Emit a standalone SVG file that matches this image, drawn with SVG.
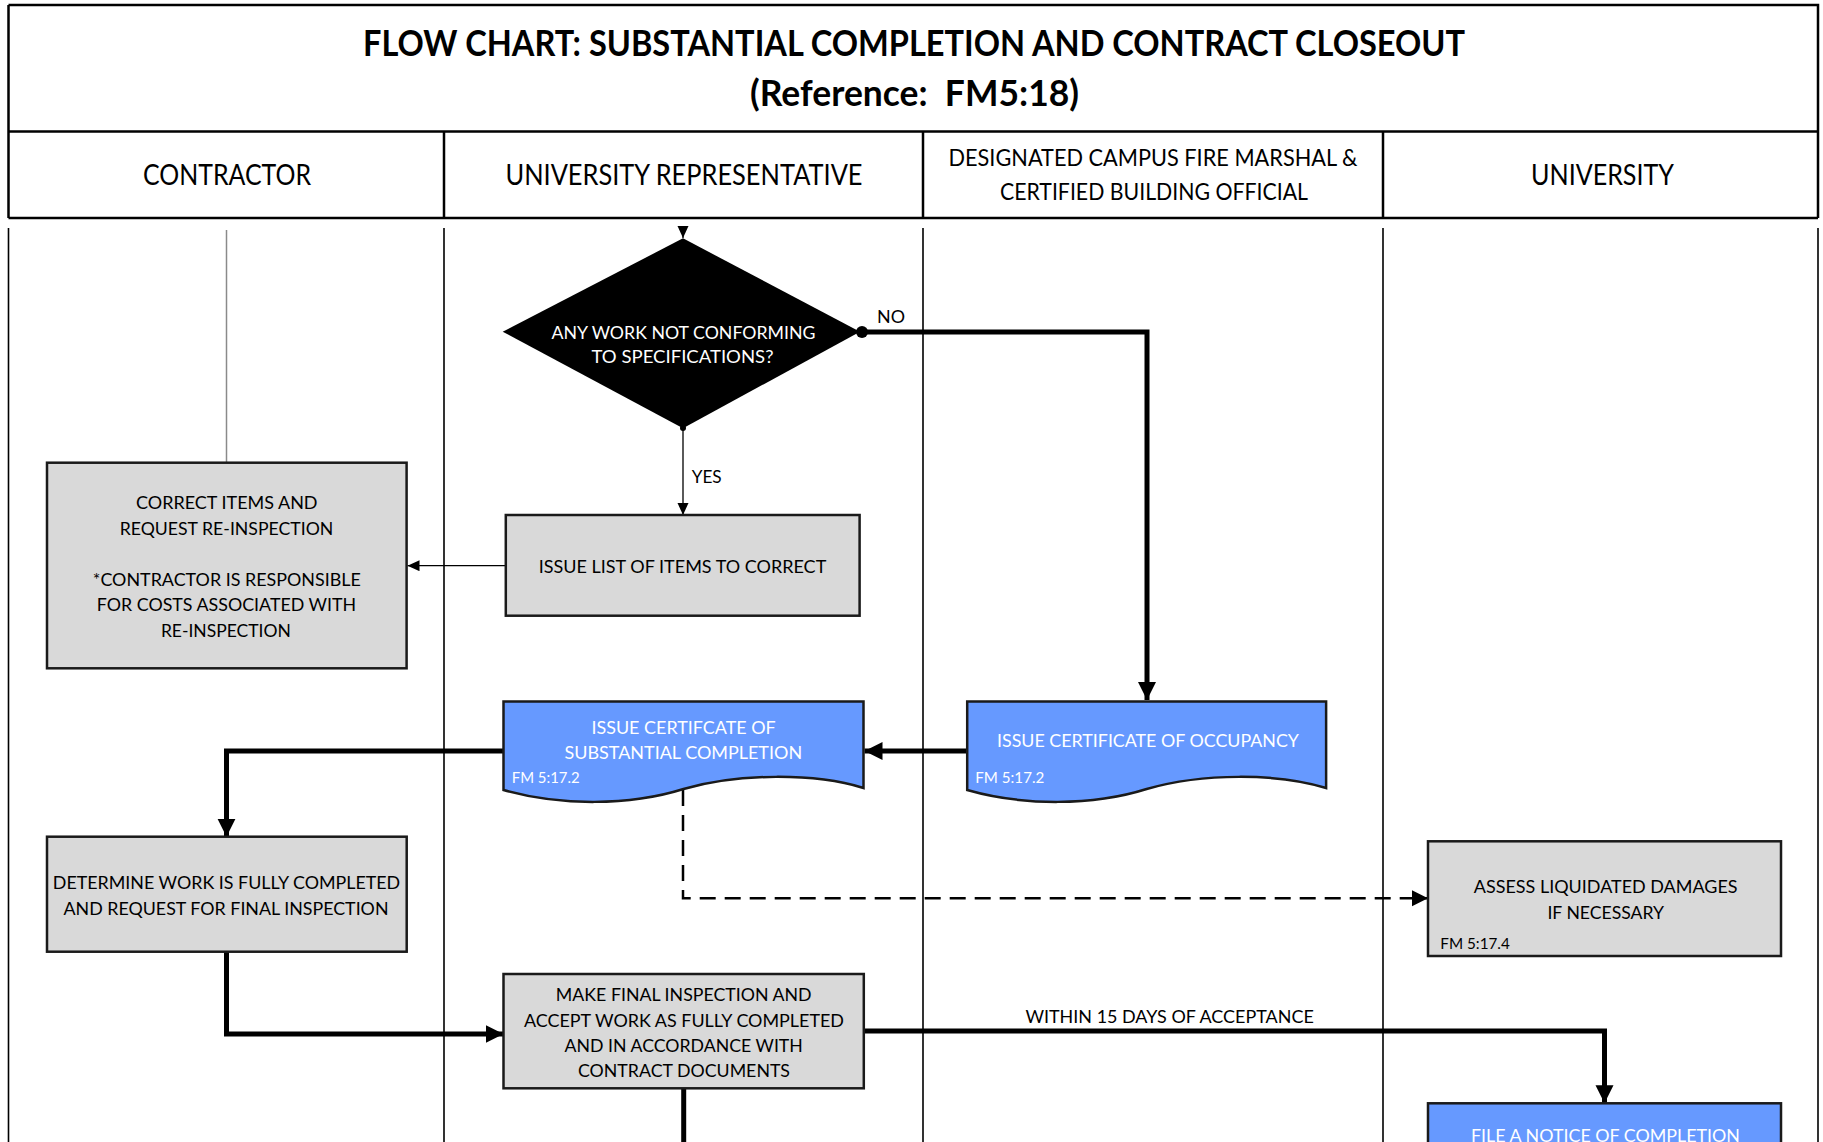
<svg xmlns="http://www.w3.org/2000/svg" width="1823" height="1142" viewBox="0 0 1823 1142">
  <style>
    .frame { stroke: #000; stroke-width: 2.5; fill: none; }
    .lane { stroke: #000; stroke-width: 1.6; fill: none; }
    .box { fill: #d9d9d9; stroke: #1a1a1a; stroke-width: 2.5; }
    .doc { fill: #6699ff; stroke: #1a1a1a; stroke-width: 2.5; }
    .t { font-family: Lato, "Open Sans", "Liberation Sans", sans-serif; fill: #000; }
    .title { font-size: 36px; font-weight: bold; text-anchor: middle; }
    .hdr { font-size: 28px; text-anchor: middle; }
    .hdr2 { font-size: 23px; text-anchor: middle; }
    .body { font-size: 18px; text-anchor: middle; }
    .small { font-size: 15px; }
    .white { fill: #fff; }
    .thick { stroke: #000; stroke-width: 5; fill: none; }
    .thin { stroke: #000; stroke-width: 1.3; fill: none; }
    .dash { stroke: #000; stroke-width: 2.5; fill: none; stroke-dasharray: 16 9; }
  </style>
  <defs>
    <marker id="bigArrow" markerUnits="userSpaceOnUse" markerWidth="20" markerHeight="20" refX="18" refY="9" orient="auto">
      <path d="M0,0 L18,9 L0,18 Z" fill="#000"/>
    </marker>
    <marker id="smallArrow" markerUnits="userSpaceOnUse" markerWidth="14" markerHeight="12" refX="12" refY="5.5" orient="auto">
      <path d="M0,0 L12,5.5 L0,11 Z" fill="#000"/>
    </marker>
    <marker id="dashArrow" markerUnits="userSpaceOnUse" markerWidth="18" markerHeight="18" refX="16" refY="8" orient="auto">
      <path d="M0,0 L16,8 L0,16 Z" fill="#000"/>
    </marker>
    <!-- document shape with wavy bottom edge, 360 wide -->
    <path id="docShape" d="M0,0 H360 V86.5 C311,71.5 236,71.5 180,87.5 C126,104.5 56,104.5 0,88.5 Z"/>
  </defs>

  <rect width="1823" height="1142" fill="#fff"/>

  <!-- title and lane headers -->
  <g id="header">
    <path class="frame" d="M8.5,5 H1818 V218 M8.5,5 V218 M8.5,131.5 H1818 M8.5,218 H1818"/>
    <path class="frame" d="M444,131.5 V218 M923,131.5 V218 M1383,131.5 V218"/>
    <text class="t title" x="914" y="55.5" textLength="1102" lengthAdjust="spacingAndGlyphs">FLOW CHART: SUBSTANTIAL COMPLETION AND CONTRACT CLOSEOUT</text>
    <text class="t title" x="914.5" y="105.5" textLength="329" lengthAdjust="spacingAndGlyphs" xml:space="preserve">(Reference:  FM5:18)</text>
    <text class="t hdr" x="227" y="185" textLength="168" lengthAdjust="spacingAndGlyphs">CONTRACTOR</text>
    <text class="t hdr" x="684" y="185" textLength="357" lengthAdjust="spacingAndGlyphs">UNIVERSITY REPRESENTATIVE</text>
    <text class="t hdr2" x="1153" y="166" textLength="409" lengthAdjust="spacingAndGlyphs">DESIGNATED CAMPUS FIRE MARSHAL &amp;</text>
    <text class="t hdr2" x="1154" y="200" textLength="308" lengthAdjust="spacingAndGlyphs">CERTIFIED BUILDING OFFICIAL</text>
    <text class="t hdr" x="1602.5" y="185" textLength="143" lengthAdjust="spacingAndGlyphs">UNIVERSITY</text>
  </g>

  <!-- swimlane dividers -->
  <g id="lanes">
    <path class="lane" d="M8.5,228 V1142 M444,228 V1142 M923,228 V1142 M1383,228 V1142 M1818,228 V1142"/>
  </g>

  <!-- connectors -->
  <g id="connectors">
    <path d="M226.5,230 V462.7" stroke="#8a8a8a" stroke-width="1.5" fill="none"/>
    <path class="thin" d="M683,226 V238" marker-end="url(#smallArrow)"/>
    <path class="thin" d="M683,428 V515" marker-end="url(#smallArrow)"/>
    <path class="thin" d="M505.8,565.7 H407.5" marker-end="url(#smallArrow)"/>
    <path class="thick" d="M862,332 H1147 V700" marker-end="url(#bigArrow)"/>
    <path class="thick" d="M967.7,751 H864.5" marker-end="url(#bigArrow)"/>
    <path class="thick" d="M503.5,751 H226.5 V836.7" marker-end="url(#bigArrow)"/>
    <path class="thick" d="M226.5,951.7 V1034 H503.5" marker-end="url(#bigArrow)"/>
    <path class="thick" d="M863.8,1031 H1604.5 V1103.3" marker-end="url(#bigArrow)"/>
    <path class="thick" d="M683.7,1088.3 V1142"/>
    <path class="dash" d="M683,790 V898.3 H1428" marker-end="url(#dashArrow)"/>
    <circle cx="862" cy="332" r="6" fill="#000"/>
    <circle cx="683" cy="428" r="3" fill="#000"/>
    <text class="t" x="877" y="322.5" font-size="17.5" textLength="28" lengthAdjust="spacingAndGlyphs">NO</text>
    <text class="t" x="691.7" y="483" font-size="17.5" textLength="30" lengthAdjust="spacingAndGlyphs">YES</text>
    <text class="t body" x="1169.6" y="1022.7" textLength="288.4" lengthAdjust="spacingAndGlyphs">WITHIN 15 DAYS OF ACCEPTANCE</text>
  </g>

  <g id="decision-conforming">
    <path d="M683,238.3 L860,331.7 L683,428.3 L502.7,331.7 Z" fill="#000"/>
    <text class="t body white" x="683.5" y="338.5" font-size="17" textLength="264" lengthAdjust="spacingAndGlyphs">ANY WORK NOT CONFORMING</text>
    <text class="t body white" x="682.5" y="363" font-size="17" textLength="182" lengthAdjust="spacingAndGlyphs">TO SPECIFICATIONS?</text>
  </g>

  <g id="correct-items">
    <rect class="box" x="47" y="462.7" width="359.6" height="205.6"/>
    <text class="t body" x="226.8" y="509.3" textLength="181.5" lengthAdjust="spacingAndGlyphs">CORRECT ITEMS AND</text>
    <text class="t body" x="226.5" y="535" textLength="213.6" lengthAdjust="spacingAndGlyphs">REQUEST RE-INSPECTION</text>
    <text class="t body" x="226.8" y="586" textLength="268" lengthAdjust="spacingAndGlyphs">*CONTRACTOR IS RESPONSIBLE</text>
    <text class="t body" x="226.5" y="611" textLength="259.4" lengthAdjust="spacingAndGlyphs">FOR COSTS ASSOCIATED WITH</text>
    <text class="t body" x="225.9" y="636.7" textLength="130" lengthAdjust="spacingAndGlyphs">RE-INSPECTION</text>
  </g>

  <g id="issue-list">
    <rect class="box" x="505.8" y="515" width="353.8" height="100.7"/>
    <text class="t body" x="682.5" y="572.7" textLength="287.6" lengthAdjust="spacingAndGlyphs">ISSUE LIST OF ITEMS TO CORRECT</text>
  </g>

  <g id="certificate-substantial-completion">
    <use href="#docShape" class="doc" transform="translate(503.5,701.5)"/>
    <text class="t body white" x="683.6" y="734" textLength="184.3" lengthAdjust="spacingAndGlyphs">ISSUE CERTIFCATE OF</text>
    <text class="t body white" x="683.3" y="759.3" textLength="237.7" lengthAdjust="spacingAndGlyphs">SUBSTANTIAL COMPLETION</text>
    <text class="t small white" x="511.7" y="782.7" textLength="68" lengthAdjust="spacingAndGlyphs">FM 5:17.2</text>
  </g>

  <g id="certificate-occupancy">
    <use href="#docShape" class="doc" transform="translate(967.2,701.5) scale(0.997,1)"/>
    <text class="t body white" x="1148" y="746.7" textLength="302" lengthAdjust="spacingAndGlyphs">ISSUE CERTIFICATE OF OCCUPANCY</text>
    <text class="t small white" x="975.3" y="782.7" textLength="69" lengthAdjust="spacingAndGlyphs">FM 5:17.2</text>
  </g>

  <g id="determine-complete">
    <rect class="box" x="47" y="836.7" width="359.7" height="115"/>
    <text class="t body" x="226.5" y="889.3" textLength="347.4" lengthAdjust="spacingAndGlyphs">DETERMINE WORK IS FULLY COMPLETED</text>
    <text class="t body" x="226" y="915.3" textLength="325" lengthAdjust="spacingAndGlyphs">AND REQUEST FOR FINAL INSPECTION</text>
  </g>

  <g id="assess-damages">
    <rect class="box" x="1428" y="841.3" width="353" height="114.7"/>
    <text class="t body" x="1605.7" y="893.3" textLength="263.7" lengthAdjust="spacingAndGlyphs">ASSESS LIQUIDATED DAMAGES</text>
    <text class="t body" x="1605.7" y="919" textLength="116.6" lengthAdjust="spacingAndGlyphs">IF NECESSARY</text>
    <text class="t small" x="1440.3" y="949.3" textLength="69.5" lengthAdjust="spacingAndGlyphs">FM 5:17.4</text>
  </g>

  <g id="final-inspection">
    <rect class="box" x="503.5" y="974" width="360.3" height="114.3"/>
    <text class="t body" x="683.7" y="1001" textLength="255.8" lengthAdjust="spacingAndGlyphs">MAKE FINAL INSPECTION AND</text>
    <text class="t body" x="684" y="1027.3" textLength="320" lengthAdjust="spacingAndGlyphs">ACCEPT WORK AS FULLY COMPLETED</text>
    <text class="t body" x="683.7" y="1052.3" textLength="238.3" lengthAdjust="spacingAndGlyphs">AND IN ACCORDANCE WITH</text>
    <text class="t body" x="684" y="1077.3" textLength="212" lengthAdjust="spacingAndGlyphs">CONTRACT DOCUMENTS</text>
  </g>

  <g id="notice-of-completion">
    <rect class="doc" x="1428" y="1103.3" width="353" height="60"/>
    <text class="t body white" x="1605.5" y="1141.5" textLength="269" lengthAdjust="spacingAndGlyphs">FILE A NOTICE OF COMPLETION</text>
  </g>
</svg>
